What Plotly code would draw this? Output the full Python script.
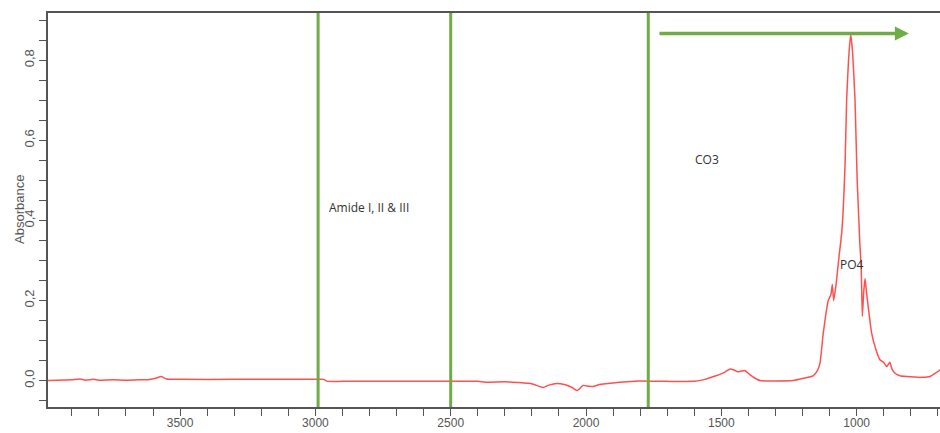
import plotly.graph_objects as go

# ---- data ----
wavenumber = [3988, 3950, 3900, 3870, 3850, 3820, 3800, 3750, 3700, 3650, 3620, 3590, 3570, 3550,
              3500, 3300, 3100, 3000, 2970, 2955, 2900, 2700, 2500, 2400, 2370, 2300, 2250,
              2200, 2158, 2140, 2107, 2080, 2050, 2033, 2020, 2011, 1990, 1974, 1950, 1900,
              1850, 1800, 1700, 1600, 1560, 1520, 1490, 1468, 1455, 1439, 1425, 1413, 1395,
              1370, 1357, 1300, 1235, 1200, 1161, 1145, 1135, 1124, 1115, 1105, 1095, 1090,
              1085, 1076, 1065, 1055, 1043, 1037, 1030, 1022, 1015, 1006, 998, 988, 983,
              979, 974, 969, 965, 960, 945, 930, 914, 900, 889, 877, 870, 859, 840, 815,
              760, 729, 710, 692]
absorbance = [0.000, 0.001, 0.002, 0.004, 0.001, 0.003, 0.001, 0.002, 0.001, 0.002, 0.002, 0.006, 0.010, 0.004,
              0.003, 0.003, 0.003, 0.003, 0.003, -0.002, -0.002, -0.002, -0.002, -0.002, -0.004, -0.003, -0.005,
              -0.008, -0.0175, -0.012, -0.007, -0.010, -0.018, -0.025, -0.018, -0.012, -0.014, -0.015, -0.010, -0.006,
              -0.003, -0.001, -0.002, -0.002, 0.003, 0.012, 0.020, 0.029, 0.027, 0.022, 0.024, 0.025, 0.015,
              0.004, 0.000, -0.001, 0.000, 0.005, 0.012, 0.025, 0.045, 0.115, 0.160, 0.200, 0.215, 0.240,
              0.200, 0.240, 0.310, 0.370, 0.535, 0.700, 0.800, 0.865, 0.820, 0.700, 0.500, 0.340, 0.280,
              0.160, 0.220, 0.255, 0.230, 0.200, 0.120, 0.080, 0.052, 0.045, 0.035, 0.046, 0.030, 0.019, 0.012, 0.010,
              0.008, 0.010, 0.018, 0.027]

region_lines = [2990, 2500, 1770]
arrow_from = (1734, 0.867)
arrow_to = (807, 0.867)
labels = [("Amide I, II & III", 2958, 0.432, "left"),
          ("CO3", 1605, 0.552, "left"),
          ("PO4", 1017, 0.289, "center")]
x_tickvals = [3500, 3000, 2500, 2000, 1500, 1000]
y_tickvals = [0.0, 0.2, 0.4, 0.6, 0.8]

GREEN = "#6FAC46"
W, H = 940, 433
ML, MR, MT, MB = 48, 0, 13, 26

fig = go.Figure()
fig.add_trace(go.Scatter(x=wavenumber, y=absorbance, mode="lines",
                         line=dict(color="#FF5050", width=1.5, shape="spline", smoothing=0.4),
                         showlegend=False, hoverinfo="skip"))

for xv in region_lines:
    fig.add_shape(type="line", xref="x", yref="paper", x0=xv, x1=xv, y0=0, y1=1,
                  line=dict(color=GREEN, width=3), layer="above")

fig.add_annotation(x=arrow_to[0], y=arrow_to[1], ax=arrow_from[0], ay=arrow_from[1],
                   xref="x", yref="y", axref="x", ayref="y", text="", showarrow=True,
                   arrowhead=2, arrowsize=0.8, arrowwidth=3.5, arrowcolor=GREEN)

for txt, xv, yv, anc in labels:
    fig.add_annotation(x=xv, y=yv, xref="x", yref="y", text=txt, showarrow=False,
                       xanchor=anc, yanchor="middle",
                       font=dict(family="Open Sans", size=12, color="#333333"))

fig.add_annotation(x=(19 - ML) / (W - ML - MR), y=0.5, xref="paper", yref="paper",
                   text="Absorbance", showarrow=False, textangle=-90,
                   xanchor="center", yanchor="middle",
                   font=dict(family="Liberation Sans", size=13, color="#555555"))

fig.update_layout(
    width=W, height=H,
    margin=dict(l=ML, r=MR, t=MT, b=MB, autoexpand=False),
    paper_bgcolor="white", plot_bgcolor="white",
    separators=",.",
    font=dict(family="Liberation Sans", size=13, color="#555555"),
)

fig.update_xaxes(range=[3988, 692], showgrid=False, zeroline=False,
                 showline=True, linecolor="#555555", linewidth=1.5, mirror=True,
                 ticks="outside", ticklen=7, tickcolor="#555555", tickwidth=1.2,
                 tickvals=x_tickvals, ticktext=[str(v) for v in x_tickvals],
                 ticklabelstandoff=-3,
                 minor=dict(dtick=100, tick0=0, ticks="outside", ticklen=7,
                            tickcolor="#555555", tickwidth=1.2, showgrid=False),
                 tickfont=dict(size=12, color="#555555"), automargin=False)
fig.update_yaxes(range=[-0.066, 0.918], showgrid=False, zeroline=False,
                 showline=True, linecolor="#555555", linewidth=1.5, mirror=False,
                 ticks="outside", ticklen=7, tickcolor="#555555", tickwidth=1.2,
                 tickvals=y_tickvals, tickformat=".1f", tickangle=-90,
                 minor=dict(dtick=0.05, tick0=0, ticks="outside", ticklen=7,
                            tickcolor="#555555", tickwidth=1.2, showgrid=False),
                 tickfont=dict(size=13, color="#555555"), automargin=False)

fig.write_html("out.html")
